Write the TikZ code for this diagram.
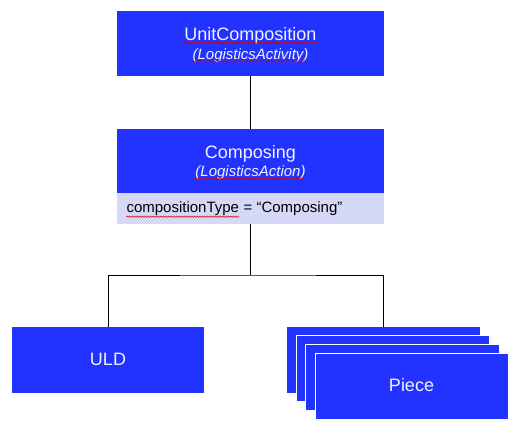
\documentclass[tikz,border=0pt]{standalone}
\usepackage{fontspec}
\setmainfont{Liberation Sans}
\usetikzlibrary{decorations.pathmorphing}
\definecolor{boxblue}{RGB}{34,51,255}
\definecolor{attrbg}{RGB}{214,216,247}
\definecolor{boxtext}{RGB}{242,242,255}
\begin{document}
\begin{tikzpicture}[x=1pt,y=-1pt,
  blbox/.style={draw=none,fill=boxblue,rectangle,inner sep=0pt,outer sep=0pt},
  stackbox/.style={draw=white,line width=0.9pt,fill=boxblue,rectangle,inner sep=0pt,outer sep=0pt,minimum width=193pt,minimum height=66pt},
  attrbox/.style={draw=none,fill=attrbg,rectangle,inner sep=0pt,outer sep=0pt},
  ttl/.style={inner sep=0pt,anchor=base,text=boxtext,font=\fontsize{18}{21}\selectfont},
  sub/.style={inner sep=0pt,anchor=base,text=boxtext,font=\fontsize{15}{18}\selectfont\itshape},
  attrtxt/.style={inner sep=0pt,anchor=base west,text=black,font=\fontsize{15}{18}\selectfont},
  squig/.style={draw=red!85!black,line width=0.5pt,decorate,decoration={snake,segment length=2.6pt,amplitude=0.7pt}},
  conn/.style={draw=black,line width=0.9pt}
]
\useasboundingbox[fill=white] (0,0) rectangle (516,431);

% top box
\node[blbox,minimum width=267pt,minimum height=64.5pt] (uc) at (250.5,43.25) {};
\node[ttl] (uct) at (250.5,40.7) {UnitComposition};
\node[sub] (ucs) at (250.5,59.3) {(LogisticsActivity)};

% composing box
\node[blbox,minimum width=267pt,minimum height=64pt] (cmp) at (250.5,161) {};
\node[attrbox,minimum width=267pt,minimum height=31pt] (attr) at (250.5,208.5) {};
\node[ttl] (cmpt) at (250.5,158.3) {Composing};
\node[sub] (cmps) at (250.5,176.7) {(LogisticsAction)};
\node[attrtxt] (attra) at (126.3,212.7) {compositionType};
\node[attrtxt] (attrb) at (attra.base east) {\ = “Composing”};

% ULD
\node[blbox,minimum width=192pt,minimum height=66pt] (uld) at (108,360) {};
\node[ttl] (uldt) at (108,365) {ULD};

% Piece stack
\node[blbox,minimum width=193pt,minimum height=66pt] (p1) at (383.5,360) {};
\node[stackbox] (p2) at (392.5,368) {};
\node[stackbox,minimum width=194pt] (p3) at (402,377) {};
\node[stackbox] (p4) at (411.5,386) {};
\node[ttl] (pt) at (411.5,391) {Piece};

% spell-check underlines
\draw[squig] ([yshift=-2pt]uct.base west) -- ([yshift=-2pt]uct.base east);
\draw[squig] ([yshift=-2pt]ucs.base west) -- ([yshift=-2pt]ucs.base east);
\draw[squig] ([yshift=-2pt]cmps.base west) -- ([yshift=-2pt]cmps.base east);
\draw[squig] ([yshift=-4pt]attra.base west) -- ([yshift=-4pt]attra.base east);

% connectors
\coordinate (j) at (250.5,275);
\draw[conn] (uc.south) -- (cmp.north);
\draw[conn] (attr.south) -- (j);
\draw[conn] (uld.north) |- (j) -| (p1.north);
\end{tikzpicture}
\end{document}
